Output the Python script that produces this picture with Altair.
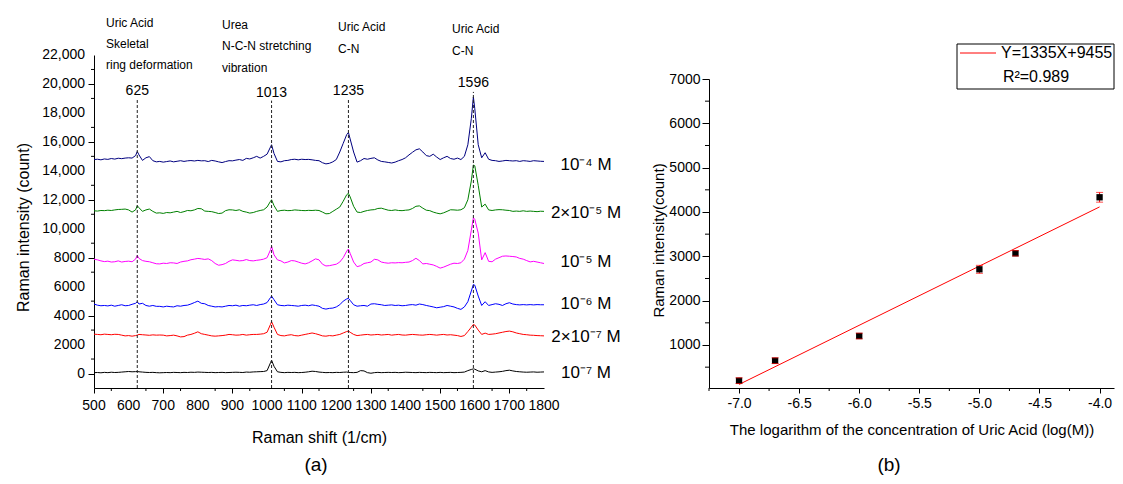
import altair as alt
import pandas as pd

FONT = "Liberation Sans"

# ---------------- (a) SERS spectra ----------------
shift = [
    500, 510, 520, 530, 540, 550, 560, 570, 580, 590,
    600, 610, 620, 625, 630, 640, 650, 660, 670, 680,
    690, 700, 710, 720, 730, 740, 750, 760, 770, 780,
    790, 800, 810, 820, 830, 840, 850, 860, 870, 880,
    890, 900, 910, 920, 930, 940, 950, 960, 970, 980,
    990, 1000, 1010, 1013, 1020, 1030, 1040, 1050, 1060, 1070,
    1080, 1090, 1100, 1110, 1120, 1130, 1140, 1150, 1160, 1170,
    1180, 1190, 1200, 1210, 1220, 1230, 1235, 1240, 1250, 1260,
    1270, 1280, 1290, 1300, 1310, 1320, 1330, 1340, 1350, 1360,
    1370, 1380, 1390, 1400, 1410, 1420, 1430, 1440, 1450, 1460,
    1470, 1480, 1490, 1500, 1510, 1520, 1530, 1540, 1550, 1560,
    1570, 1580, 1590, 1596, 1600, 1610, 1620, 1630, 1640, 1650,
    1660, 1670, 1680, 1690, 1700, 1710, 1720, 1730, 1740, 1750,
    1760, 1770, 1780, 1790, 1800,
]

s_1e4 = [
    14780, 14800, 14760, 14820, 14790, 14850, 14810, 14870, 14840, 14880,
    14900, 14880, 15050, 15330, 15100, 14720, 14900, 14980, 14700, 14620,
    14650, 14600, 14640, 14680, 14620, 14660, 14700, 14650, 14690, 14710,
    14680, 14720, 14690, 14700, 14640, 14720, 14680, 14620, 14570, 14640,
    14700, 14690, 14740, 14780, 14720, 14860, 14820, 14900, 15000, 14880,
    15000, 15150, 15650, 15800, 15200, 14650, 14620, 14700, 14720, 14780,
    14800, 14760, 14800, 14780, 14790, 14760, 14720, 14700, 14560, 14480,
    14520, 14620, 14780, 15300, 15900, 16500, 16650, 16200, 15300, 14600,
    14700, 14850, 14800, 14860, 14900, 14750, 14650, 14620, 14580, 14540,
    14600, 14700, 14780, 14900, 15100, 15280, 15450, 15520, 15300, 15050,
    15000, 15150, 14950, 14780, 14900, 15000, 14850, 14800, 14880, 14780,
    15000, 15800, 17600, 19100, 18300, 15800, 14900, 15250, 14800, 14720,
    14700, 14650, 14680, 14720, 14700, 14680, 14700, 14650, 14700, 14680,
    14650, 14700, 14680, 14660, 14650,
]

s_2e5 = [
    11240, 11220, 11260, 11250, 11280, 11260, 11300, 11330, 11340, 11360,
    11300, 11150, 11300, 11590, 11450, 11200, 11300, 11360, 11200, 11080,
    11100, 11060, 11120, 11100, 11150, 11200, 11120, 11180, 11260, 11240,
    11300, 11400, 11380, 11220, 11200, 11180, 11120, 11050, 11080, 11250,
    11310, 11300, 11260, 11310, 11200, 11150, 11080, 11120, 11200, 11260,
    11310, 11500, 11900, 12000, 11600, 11200, 11260, 11280, 11250, 11260,
    11300, 11280, 11260, 11250, 11270, 11260, 11280, 11260, 11150, 11030,
    11050, 11200, 11350, 11500, 11900, 12350, 12450, 12200, 11550, 11150,
    11120, 11200, 11260, 11300, 11320, 11400, 11420, 11350, 11280, 11260,
    11300, 11260, 11250, 11280, 11300, 11400, 11550, 11580, 11420, 11280,
    11250, 11150, 11080, 11030, 11100, 11200, 11310, 11300, 11280, 11310,
    11450, 12000, 13300, 14400, 14350, 13000, 11500, 11700, 11300, 11260,
    11300, 11320, 11310, 11280, 11260, 11200, 11220, 11200, 11240, 11200,
    11220, 11200, 11180, 11210, 11200,
]

s_1e5 = [
    7900, 7850, 7780, 7730, 7760, 7700, 7720, 7780, 7700, 7740,
    7760, 7720, 7900, 8150, 7950, 7800, 7750, 7720, 7650, 7580,
    7570, 7620, 7600, 7650, 7640, 7600, 7700, 7750, 7780, 7860,
    7900, 7950, 7920, 7880, 7920, 7800, 7600, 7480, 7520, 7600,
    7750, 7850, 7820, 7780, 7800, 7870, 7800, 7780, 7820, 7850,
    7900, 8000, 8550, 8800, 8200, 7850, 7780, 7640, 7700, 7800,
    7780, 7700, 7620, 7570, 7650, 7780, 7920, 7850, 7550, 7430,
    7450, 7500, 7550, 7700, 8000, 8450, 8600, 8300, 7700, 7380,
    7450, 7600, 7650, 7700, 7890, 7850, 7700, 7650, 7620, 7650,
    7640, 7660, 7650, 7680, 7700, 7800, 7960, 7800, 7570, 7600,
    7550, 7500, 7400, 7280, 7350, 7450, 7550, 7620, 7600, 7650,
    7900, 8500, 9900, 10750, 10650, 9700, 7850, 8350, 7750, 7720,
    7900, 8000, 8100, 8120, 8100, 8080, 8050, 7950, 7900, 7800,
    7710, 7750, 7700, 7650, 7600,
]

s_1e6 = [
    4800, 4720, 4680, 4700, 4670, 4720, 4650, 4700, 4750, 4680,
    4700, 4780, 4850, 4960, 4800, 4850, 4700, 4650, 4700, 4640,
    4640, 4600, 4650, 4620, 4600, 4680, 4650, 4700, 4720, 4800,
    4900, 5000, 4850, 4820, 4700, 4650, 4600, 4620, 4600, 4650,
    4700, 4680, 4720, 4650, 4700, 4680, 4720, 4750, 4700, 4760,
    4800, 4900, 5250, 5350, 5100, 4750, 4700, 4680, 4720, 4700,
    4680, 4650, 4700, 4720, 4680, 4740, 4700, 4650, 4500, 4450,
    4500, 4520, 4600, 4750, 5000, 5150, 5190, 5050, 4750, 4650,
    4680, 4700, 4650, 4800, 4820, 4780, 4750, 4700, 4720, 4740,
    4700, 4720, 4680, 4700, 4740, 4760, 4720, 4800, 4760, 4700,
    4650, 4600, 4540, 4580, 4620, 4700, 4650, 4600, 4500, 4430,
    4600, 4960, 5700, 6150, 6100, 5350, 4700, 4960, 4700, 4760,
    4820, 4780, 4700, 4820, 4890, 4800, 4760, 4740, 4760, 4740,
    4760, 4740, 4760, 4750, 4750,
]

s_2e7 = [
    2720, 2700, 2680, 2720, 2700, 2680, 2710, 2700, 2650, 2600,
    2620, 2580, 2620, 2650, 2700, 2680, 2660, 2640, 2670, 2650,
    2660, 2650, 2600, 2620, 2650, 2600, 2530, 2550, 2650, 2700,
    2780, 2880, 2750, 2700, 2650, 2600, 2580, 2600, 2620, 2650,
    2700, 2680, 2650, 2660, 2700, 2650, 2680, 2700, 2700, 2720,
    2750, 2850, 3400, 3580, 3200, 2700, 2620, 2600, 2650, 2680,
    2620, 2600, 2650, 2700, 2750, 2800, 2750, 2680, 2600, 2580,
    2620, 2600, 2650, 2700, 2800, 2900, 2930, 2850, 2700, 2620,
    2650, 2680, 2700, 2660, 2680, 2700, 2660, 2680, 2700, 2650,
    2680, 2700, 2660, 2650, 2680, 2700, 2680, 2660, 2650, 2680,
    2700, 2680, 2650, 2680, 2700, 2660, 2680, 2650, 2620, 2560,
    2620, 2900, 3200, 3390, 3350, 3000, 2700, 2790, 2700, 2720,
    2750, 2800, 2850, 2900, 2930, 2880, 2800, 2750, 2700, 2680,
    2650, 2640, 2620, 2610, 2600,
]

s_1e7 = [
    60, 70, 50, 80, 60, 90, 70, 80, 100, 120,
    140, 120, 130, 140, 120, 100, 80, 70, 80, 60,
    50, 60, 70, 60, 80, 70, 60, 80, 70, 90,
    80, 100, 90, 80, 70, 80, 60, 70, 80, 60,
    70, 80, 90, 80, 70, 100, 90, 110, 120, 130,
    140, 200, 750, 920, 500, 120, 80, 60, 80, 70,
    80, 60, 70, 90, 120, 160, 140, 100, 80, 60,
    70, 60, 80, 70, 90, 100, 80, 70, 60, 80,
    200, 180, 60, 20, 60, 80, 60, 70, 80, 70,
    80, 60, 70, 90, 80, 70, 60, 80, 70, 60,
    80, 70, 60, 80, 60, 70, 80, 60, 70, 80,
    100, 200, 280, 320, 300, 180, 120, 200, 110, 80,
    100, 120, 150, 200, 230, 180, 140, 120, 100, 90,
    100, 110, 90, 100, 110,
]

series_names = ["10⁻⁴ M", "2×10⁻⁵ M", "10⁻⁵ M", "10⁻⁶ M", "2×10⁻⁷ M", "10⁻⁷ M"]
series_values = [s_1e4, s_2e5, s_1e5, s_1e6, s_2e7, s_1e7]
series_colors = ["#00007f", "#008000", "#ff00ff", "#0000ff", "#ff0000", "#000000"]
label_levels = [14400, 11090, 7700, 4800, 2520, 40]

peaks = [625, 1013, 1235, 1596]
peak_labels = ["625", "1013", "1235", "1596"]
peak_line_top = [18900, 18850, 18900, 19450]
peak_label_y = [19500, 19350, 19500, 20100]

# axis ticks and tick labels
x_major_left = [500, 600, 700, 800, 900, 1000, 1100, 1200, 1300, 1400, 1500, 1600, 1700, 1800]
x_minor_left = [550, 650, 750, 850, 950, 1050, 1150, 1250, 1350, 1450, 1550, 1650, 1750]
y_major_left = [0, 2000, 4000, 6000, 8000, 10000, 12000, 14000, 16000, 18000, 20000, 22000]
y_tick_text = ["0", "2000", "4000", "6000", "8000", "10,000", "12,000", "14,000",
               "16,000", "18,000", "20,000", "22,000"]
y_minor_left = [1000, 3000, 5000, 7000, 9000, 11000, 13000, 15000, 17000, 19000, 21000]

for s in series_values:
    assert len(s) == len(shift)

rows = []
for name, vals in zip(series_names, series_values):
    for xv, yv in zip(shift, vals):
        rows.append({"shift": xv, "intensity": yv, "series": name})
spec_df = pd.DataFrame(rows)
peak_df = pd.DataFrame({"shift": peaks, "intensity": [-1000] * 4, "hi": peak_line_top,
                        "ly": peak_label_y, "label": peak_labels})
lab_df = pd.DataFrame({"series": series_names, "intensity": label_levels})
xlab_df = pd.DataFrame({"shift": x_major_left, "txt": [str(v) for v in x_major_left]})
ylab_df = pd.DataFrame({"intensity": y_major_left, "txt": y_tick_text})

LW, LH = 450, 333
xs_left = alt.Scale(domain=[500, 1800], nice=False, zero=False)
ys_left = alt.Scale(domain=[-1000, 22000], nice=False, zero=False)
col_scale = alt.Scale(domain=series_names, range=series_colors)

x_axis_left = alt.Axis(
    values=x_major_left, tickSize=5, labels=False,
    title="Raman shift (1/cm)", titleY=49, titleBaseline="middle", titleFontSize=16,
)
y_axis_left = alt.Axis(
    values=y_major_left, tickSize=6, labels=False,
    title="Raman intensity (count)", titleX=-66, titleY=172,
    titleBaseline="alphabetic", titleFontSize=16,
)

XL = alt.X("shift:Q", scale=xs_left)
YL = alt.Y("intensity:Q", scale=ys_left)
spectra = alt.Chart(spec_df).mark_line(strokeWidth=1).encode(
    x=alt.X("shift:Q", scale=xs_left, axis=x_axis_left),
    y=alt.Y("intensity:Q", scale=ys_left, axis=y_axis_left),
    color=alt.Color("series:N", scale=col_scale, legend=None),
)
minor_x_left = alt.Chart(pd.DataFrame({"shift": x_minor_left})).mark_rule(color="black", strokeWidth=1).encode(
    x=XL, y=alt.value(LH), y2=alt.value(LH + 3))
minor_y_left = alt.Chart(pd.DataFrame({"intensity": y_minor_left})).mark_rule(color="black", strokeWidth=1).encode(
    y=YL, x=alt.value(0), x2=alt.value(-3))
xlabels_left = alt.Chart(xlab_df).mark_text(fontSize=14, font=FONT, color="black", baseline="middle").encode(
    x=XL, y=alt.value(LH + 18), text="txt:N")
ylabels_left = alt.Chart(ylab_df).mark_text(fontSize=14, font=FONT, color="black", baseline="middle",
                                             align="right").encode(
    y=YL, x=alt.value(-9), text="txt:N")
dashes = alt.Chart(peak_df).mark_rule(strokeDash=[3, 2], strokeWidth=1, color="#222").encode(
    x=XL, y=YL, y2="hi:Q",
)
peak_text = alt.Chart(peak_df).mark_text(fontSize=14, font=FONT, color="black", baseline="middle").encode(
    x=XL, y=alt.Y("ly:Q", scale=ys_left), text="label:N",
)
series_text = alt.Chart(lab_df).mark_text(fontSize=17, font=FONT, color="black", baseline="middle").encode(
    x=alt.value(492), y=YL, text="series:N",
)

one = pd.DataFrame({"a": [0]})


def txt(x, y, s, size=12, align="left", baseline="middle"):
    return alt.Chart(one).mark_text(text=s, fontSize=size, align=align, baseline=baseline,
                                    font=FONT, color="black").encode(
        x=alt.value(x), y=alt.value(y))


annotations = [
    txt(12, -32, "Uric Acid"), txt(12, -11, "Skeletal"), txt(12, 10, "ring deformation"),
    txt(128, -30, "Urea"), txt(128, -9, "N-C-N stretching"), txt(128, 13, "vibration"),
    txt(244, -28, "Uric Acid"), txt(244, -6, "C-N"),
    txt(358, -26, "Uric Acid"), txt(358, -4, "C-N"),
    txt(222, 410, "(a)", size=19, align="center"),
]

left = alt.layer(spectra, minor_x_left, minor_y_left, xlabels_left, ylabels_left, dashes,
                 peak_text, series_text, *annotations).properties(width=LW, height=LH)

# ---------------- (b) calibration ----------------
log_conc = [-7.0, -6.7, -6.0, -5.0, -4.7, -4.0]
peak_intensity = [195, 646, 1203, 2707, 3068, 4332]
intensity_err = [65, 65, 65, 90, 60, 110]
fit_slope, fit_intercept = 1335, 9455
fit_range = [-7.0, -4.0]

x_major_r = [-7.0, -6.5, -6.0, -5.5, -5.0, -4.5, -4.0]
x_minor_r = [-7.25, -6.75, -6.25, -5.75, -5.25, -4.75, -4.25]
y_major_r = [1000, 2000, 3000, 4000, 5000, 6000, 7000]
y_minor_r = [500, 1500, 2500, 3500, 4500, 5500, 6500]

cal_df = pd.DataFrame({"logc": log_conc, "val": peak_intensity, "err": intensity_err})
cal_df["lo"] = cal_df["val"] - cal_df["err"]
cal_df["hi"] = cal_df["val"] + cal_df["err"]
fit_df = pd.DataFrame({"logc": fit_range, "val": [fit_slope * v + fit_intercept for v in fit_range]})

RW = 405
xs_r = alt.Scale(domain=[-7.25, -3.88], nice=False, zero=False)
ys_r = alt.Scale(domain=[30, 7000], range=[333, 24], nice=False, zero=False)

x_axis_r = alt.Axis(
    values=x_major_r, tickSize=5, labelOverlap=False, labelFlush=False,
    labelExpr="replace(format(datum.value, '.1f'), '\u2212', '-')",
    labelPadding=3, title="The logarithm of the concentration of Uric Acid (log(M))",
    titleY=41, titleBaseline="middle", titleFontSize=15,
)
y_axis_r = alt.Axis(
    values=y_major_r, tickSize=7, format="d", labelOverlap=False, labelFlush=False,
    labelPadding=2, title="Raman intensity(count)", titleX=-46, titleY=185,
    titleBaseline="alphabetic", titleFontSize=15,
)

XR = alt.X("logc:Q", scale=xs_r)
fit_line = alt.Chart(fit_df).mark_line(color="#ff0000", strokeWidth=1).encode(
    x=alt.X("logc:Q", scale=xs_r, axis=x_axis_r),
    y=alt.Y("val:Q", scale=ys_r, axis=y_axis_r),
)
minor_x_r = alt.Chart(pd.DataFrame({"logc": x_minor_r})).mark_rule(color="black", strokeWidth=1).encode(
    x=XR, y=alt.value(LH), y2=alt.value(LH + 3))
minor_y_r = alt.Chart(pd.DataFrame({"val": y_minor_r})).mark_rule(color="black", strokeWidth=1).encode(
    y=alt.Y("val:Q", scale=ys_r), x=alt.value(0), x2=alt.value(-4))
err_rule = alt.Chart(cal_df).mark_rule(color="#ff0000", strokeWidth=1).encode(
    x=XR, y=alt.Y("lo:Q", scale=ys_r), y2="hi:Q",
)
squares = alt.Chart(cal_df).mark_square(size=40, color="black", opacity=1, filled=True).encode(
    x=XR, y=alt.Y("val:Q", scale=ys_r),
)
cap_lo = alt.Chart(cal_df).mark_tick(color="#ff0000", orient="horizontal", size=7, thickness=1).encode(
    x=XR, y=alt.Y("lo:Q", scale=ys_r),
)
cap_hi = alt.Chart(cal_df).mark_tick(color="#ff0000", orient="horizontal", size=7, thickness=1).encode(
    x=XR, y=alt.Y("hi:Q", scale=ys_r),
)

legend_box = alt.Chart(one).mark_rect(fill="white", stroke="black", strokeWidth=1).encode(
    x=alt.value(248), x2=alt.value(405), y=alt.value(-11), y2=alt.value(34))
legend_line = alt.Chart(one).mark_rule(color="#ff0000", strokeWidth=1).encode(
    x=alt.value(251), x2=alt.value(287), y=alt.value(-2))
legend_texts = [
    txt(292, -2, f"Y={fit_slope}X+{fit_intercept}", size=16),
    txt(327, 22, "R²=0.989", size=16, align="center"),
    txt(180, 410, "(b)", size=19, align="center"),
]

right = alt.layer(fit_line, minor_x_r, minor_y_r, err_rule, squares, cap_lo, cap_hi,
                  legend_box, legend_line, *legend_texts).properties(width=RW, height=LH)

chart = alt.hconcat(left, right, spacing=165, bounds="flush").properties(
    padding={"left": 7, "top": 9, "right": 0, "bottom": 0},
    background="white",
).configure_view(stroke=None).configure_axis(
    grid=False, domainColor="black", tickColor="black", labelColor="black", titleColor="black",
    labelFont=FONT, titleFont=FONT, labelFontSize=14, titleFontWeight="normal",
    domainWidth=1, tickWidth=1,
)

chart.save("out.html", embed_options={"renderer": "svg", "actions": False})
